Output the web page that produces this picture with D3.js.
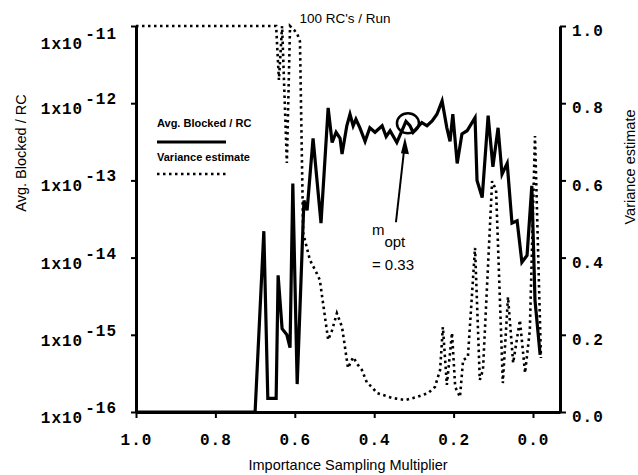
<!DOCTYPE html>
<html>
<head>
<meta charset="utf-8">
<script src="https://cdn.jsdelivr.net/npm/d3@7"></script>
<style>
  body { margin: 0; background: #fff; }
  text { fill: #000; }
  .mono { font-family: "Liberation Mono", "DejaVu Sans Mono", monospace; font-weight: bold; font-size: 16px; letter-spacing: 1px; }
  .sans { font-family: "Liberation Sans", Arial, sans-serif; }
</style>
</head>
<body>
<svg id="chart" width="638" height="475"></svg>
<script>
// importance sampling multiplier, avg blocked per RC
let mBlocked = [1.0, 0.700, 0.678, 0.668, 0.647, 0.642, 0.632, 0.620, 0.612, 0.605, 0.594, 0.577, 0.569, 0.554, 0.534,
  0.516, 0.506, 0.496, 0.486, 0.481, 0.469, 0.461, 0.453, 0.446, 0.436, 0.423, 0.411, 0.398, 0.380, 0.370, 0.360,
  0.343, 0.330, 0.320, 0.310, 0.302, 0.292, 0.280, 0.267, 0.254, 0.242, 0.229, 0.217, 0.209, 0.202, 0.191, 0.179,
  0.166, 0.146, 0.141, 0.128, 0.113, 0.101, 0.088, 0.078, 0.065, 0.053, 0.040, 0.028, 0.015, 0.003, -0.005, -0.018]
let blocked = [1e-16, 1e-16, 2.2e-14, 1.5e-16, 1.5e-16, 5.9e-15, 1.2e-15, 1.0e-15, 6.8e-16, 9.1e-14, 2.3e-16, 5.5e-14, 4.1e-14, 3.5e-13, 2.8e-14,
  8.7e-13, 3.1e-13, 4.2e-13, 3.5e-13, 2.2e-13, 5.1e-13, 7.2e-13, 5.1e-13, 6.2e-13, 4.8e-13, 3.2e-13, 4.8e-13, 4.2e-13, 5.1e-13, 3.7e-13, 4.4e-13,
  3.1e-13, 4.4e-13, 5.8e-13, 5.1e-13, 4.2e-13, 4.8e-13, 5.6e-13, 5.1e-13, 5.9e-13, 7.2e-13, 1.07e-12, 4.8e-13, 3.2e-13, 7.2e-13, 1.66e-13, 4.0e-13,
  4.4e-13, 6.5e-13, 1.0e-13, 6.0e-14, 6.9e-13, 1.5e-13, 4.8e-13, 1.2e-13, 1.66e-13, 2.8e-14, 3.0e-14, 8.7e-15, 1.07e-14, 8.5e-14, 2.8e-15, 5.5e-16]

// variance estimate
let mVar = [1.0, 0.647, 0.640, 0.632, 0.620, 0.612, 0.602, 0.594, 0.587, 0.579, 0.562, 0.544, 0.537, 0.516, 0.506,
  0.494, 0.481, 0.466, 0.453, 0.441, 0.431, 0.418, 0.406, 0.393, 0.378, 0.353, 0.322, 0.292, 0.264, 0.247, 0.234,
  0.227, 0.217, 0.204, 0.196, 0.184, 0.176, 0.164, 0.146, 0.134, 0.126, 0.103, 0.093, 0.076, 0.063, 0.050, 0.033,
  0.020, 0.008, -0.005, -0.020]
let variance = [1.0, 1.0, 0.86, 1.0, 0.645, 1.0, 0.99, 0.98, 0.96, 0.464, 0.394, 0.358, 0.342, 0.187, 0.212,
  0.256, 0.220, 0.114, 0.142, 0.122, 0.109, 0.075, 0.065, 0.049, 0.044, 0.036, 0.031, 0.039, 0.049, 0.065, 0.109,
  0.220, 0.070, 0.205, 0.065, 0.039, 0.135, 0.142, 0.425, 0.083, 0.109, 0.598, 0.575, 0.075, 0.298, 0.127, 0.238,
  0.101, 0.212, 0.715, 0.140]

let xTicks = [1.0, 0.8, 0.6, 0.4, 0.2, 0.0]
let leftTicks = [1e-16, 1e-15, 1e-14, 1e-13, 1e-12, 1e-11]
let rightTicks = [0, 0.2, 0.4, 0.6, 0.8, 1.0]
let mOpt = 0.315, blockedOpt = 5.5e-13

let svg = d3.select("#chart")
let x = d3.scaleLinear().domain([1, -0.068]).range([136, 560])
let yL = d3.scaleLog().domain([1e-16, 1e-11]).range([412, 26])
let yR = d3.scaleLinear().domain([0, 1]).range([412, 26])

// axes
let gx = svg.append("g")
  .attr("transform", "translate(0,412)")
  .call(d3.axisBottom(x).tickValues(xTicks).tickFormat(d3.format(".1f")).tickSize(6).tickSizeOuter(0).tickPadding(16))
let gl = svg.append("g")
  .attr("transform", "translate(136,0)")
  .call(d3.axisLeft(yL).tickValues(leftTicks).tickFormat("").tickSize(5).tickSizeOuter(0))
let gr = svg.append("g")
  .attr("transform", "translate(560,0)")
  .call(d3.axisRight(yR).tickValues(rightTicks).tickFormat(d3.format(".1f")).tickSize(6).tickSizeOuter(0).tickPadding(6))

for (let g of [gx, gl, gr]) {
  g.select(".domain").attr("stroke-width", 3)
  g.selectAll(".tick line").attr("stroke-width", 2)
  g.selectAll(".tick text").attr("class", "mono").attr("font-size", null).attr("font-family", null)
}
gr.selectAll(".tick text").attr("dy", "0.6em")

// left axis labels 1x10^-n
gl.selectAll(".exp")
  .data(leftTicks).enter()
  .append("text")
  .attr("class", "mono exp")
  .attr("text-anchor", "end")
  .attr("x", -19)
  .attr("y", d => yL(d) + (d == 1e-11 ? 23 : 11))
  .each(function(d) {
    let t = d3.select(this)
    t.append("tspan").text("1x10")
    t.append("tspan").attr("dx", 2).attr("dy", -10).text(Math.round(Math.log10(d)))
  })

// lines
let lineB = d3.line().x(d => x(d[0])).y(d => yL(Math.max(d[1], 1e-16)))
let lineV = d3.line().x(d => x(d[0])).y(d => yR(d[1]))

svg.append("path")
  .datum(d3.zip(mVar, variance))
  .attr("d", lineV)
  .attr("fill", "none")
  .attr("stroke", "#000")
  .attr("stroke-width", 2.6)
  .attr("stroke-dasharray", "2.5,3.5")

svg.append("path")
  .datum(d3.zip(mBlocked, blocked))
  .attr("d", lineB)
  .attr("fill", "none")
  .attr("stroke", "#000")
  .attr("stroke-width", 3.2)

// legend
let leg = svg.append("g").attr("class", "sans").attr("font-size", 11).attr("font-weight", "bold")
leg.append("text").attr("x", 157).attr("y", 127).text("Avg. Blocked / RC")
leg.append("line").attr("x1", 157).attr("x2", 226).attr("y1", 142).attr("y2", 142)
  .attr("stroke", "#000").attr("stroke-width", 3)
leg.append("text").attr("x", 157).attr("y", 161).text("Variance estimate")
leg.append("line").attr("x1", 157).attr("x2", 226).attr("y1", 174).attr("y2", 174)
  .attr("stroke", "#000").attr("stroke-width", 2.6).attr("stroke-dasharray", "2.5,3.5")

// annotation
let cx = x(mOpt), cy = yL(blockedOpt)
svg.append("ellipse").attr("cx", cx).attr("cy", cy).attr("rx", 11).attr("ry", 10)
  .attr("fill", "none").attr("stroke", "#000").attr("stroke-width", 2.5)
svg.append("line").attr("x1", cx - 12).attr("y1", cy + 99).attr("x2", cx - 4).attr("y2", cy + 28)
  .attr("stroke", "#000").attr("stroke-width", 2)
svg.append("path")
  .attr("d", `M${cx - 3},${cy + 14}L${cx + 1},${cy + 31}L${cx - 7},${cy + 30}Z`)
  .attr("fill", "#000")

let ann = svg.append("text").attr("class", "sans").attr("font-size", 15).attr("x", cx - 36).attr("y", cy + 112)
ann.append("tspan").text("m")
ann.append("tspan").attr("dy", 12).text("opt")
svg.append("text").attr("class", "sans").attr("font-size", 15).attr("x", cx - 36).attr("y", cy + 147).text("= 0.33")

// titles
svg.append("text").attr("class", "sans").attr("font-size", 13.5).attr("text-anchor", "middle")
  .attr("x", 345).attr("y", 23).text("100 RC's / Run")
svg.append("text").attr("class", "sans").attr("font-size", 14.5).attr("text-anchor", "middle")
  .attr("x", 348).attr("y", 470).text("Importance Sampling Multiplier")
svg.append("text").attr("class", "sans").attr("font-size", 14.5).attr("text-anchor", "middle")
  .attr("transform", "translate(26,153) rotate(-90)").text("Avg. Blocked / RC")
svg.append("text").attr("class", "sans").attr("font-size", 14.5).attr("text-anchor", "middle")
  .attr("transform", "translate(635,167) rotate(-90)").text("Variance estimate")
</script>
</body>
</html>
